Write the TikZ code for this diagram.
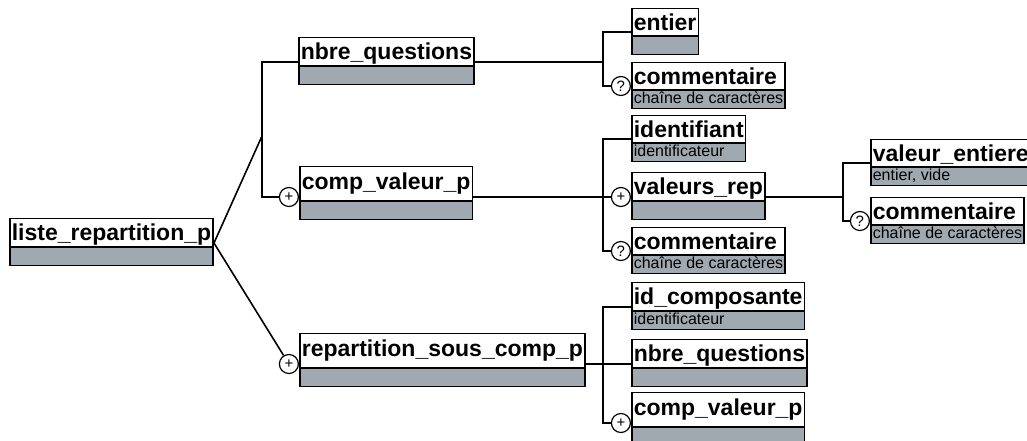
\documentclass[tikz,border=0pt]{standalone}
\usepackage{fontspec}
\setmainfont{Liberation Sans}
\usetikzlibrary{shapes.multipart}
\definecolor{boxgray}{HTML}{A0A9B0}
\newcommand{\hstd}{\rule[-4pt]{0pt}{24pt}}
\newcommand{\htall}{\rule[-10pt]{0pt}{31pt}}
\newcommand{\hsub}{\rule[-3pt]{0pt}{15pt}}
\newcommand{\subt}[1]{\fontsize{16}{16}\selectfont\mdseries #1}
\tikzset{
  elt/.style={rectangle split,rectangle split parts=2,
    rectangle split part fill={white,boxgray},
    rectangle split part align={left,left},
    draw=black,line width=1.6pt,inner xsep=2pt,inner ysep=1pt,
    anchor=text split west,font=\fontsize{23}{24}\selectfont\bfseries},
  opt/.style={circle,draw=black,fill=white,line width=1.2pt,inner sep=0pt,
    minimum size=19pt,font=\fontsize{15}{15}\selectfont},
  wire/.style={line width=1.6pt,black},
}

\begin{document}
\begin{tikzpicture}[x=1pt,y=-1pt]
  \useasboundingbox (0,0) rectangle (1027,440);
  % element boxes
  \foreach \nm/\xx/\yy/\st/\lb/\sb in {
      liste/9/247/\hstd/liste\_repartition\_p/,
      nq1/298/66/\hstd/nbre\_questions/,
      cv1/299/201/\htall/comp\_valeur\_p/,
      rs/299/368/\htall/repartition\_sous\_comp\_p/,
      entier/631/36/\hstd/entier/,
      com1/631/90/\hstd/commentaire/chaîne de caractères,
      ident/631/143/\hstd/identifiant/identificateur,
      vrep/631/201/\hstd/valeurs\_rep/,
      com2/631/255/\hstd/commentaire/chaîne de caractères,
      vent/870/167/\hstd/valeur\_entiere/{entier, vide},
      com3/870/225/\hstd/commentaire/chaîne de caractères,
      idc/631/311/\hstd/id\_composante/identificateur,
      nq2/631/368/\hstd/nbre\_questions/,
      cv2/631/427/\htall/comp\_valeur\_p/}
    \node[elt] (\nm) at (\xx,\yy) {\st\lb\nodepart{two}\hsub\subt{\sb}};

  % occurrence marks
  \node[opt,anchor=east] (p1) at ([yshift=4pt]cv1.text split west) {+};
  \node[opt,anchor=east] (p2) at ([yshift=4pt]rs.text split west) {+};
  \node[opt,anchor=east] (p3) at ([yshift=4pt]vrep.text split west) {+};
  \node[opt,anchor=east] (p4) at ([yshift=4pt]cv2.text split west) {+};
  \node[opt,anchor=east] (q1) at ([yshift=4pt]com1.text split west) {?};
  \node[opt,anchor=east] (q2) at ([yshift=4pt]com2.text split west) {?};
  \node[opt,anchor=east] (q3) at ([yshift=4pt]com3.text split west) {?};

  \coordinate (j1) at (262,136);
  \coordinate (bus2) at (603,0);
  \coordinate (bus3) at (843,0);

  % links
  \draw[wire] ([yshift=4pt]liste.text split east) -- (j1);
  \draw[wire] ([yshift=4pt]liste.text split east) -- (p2);
  \draw[wire] ([yshift=4pt]nq1.text split west) -| (j1) |- (p1);
  \draw[wire] ([yshift=4pt]nq1.text split east) -- ([yshift=4pt]nq1.text split east-|bus2) coordinate (j2);
  \draw[wire] ([yshift=4pt]entier.text split west) -| (j2) |- (q1);
  \draw[wire] ([yshift=4pt]cv1.text split east) -- (p3);
  \draw[wire] ([yshift=4pt]ident.text split west) -| (p3-|bus2) |- (q2);
  \draw[wire] ([yshift=4pt]vrep.text split east) -- ([yshift=4pt]vrep.text split east-|bus3) coordinate (j4);
  \draw[wire] ([yshift=4pt]vent.text split west) -| (j4) |- (q3);
  \draw[wire] ([yshift=4pt]rs.text split east) -- ([yshift=4pt]nq2.text split west);
  \draw[wire] ([yshift=4pt]idc.text split west) -| ([yshift=4pt]nq2.text split west-|bus2) |- (p4);
\end{tikzpicture}
\end{document}
